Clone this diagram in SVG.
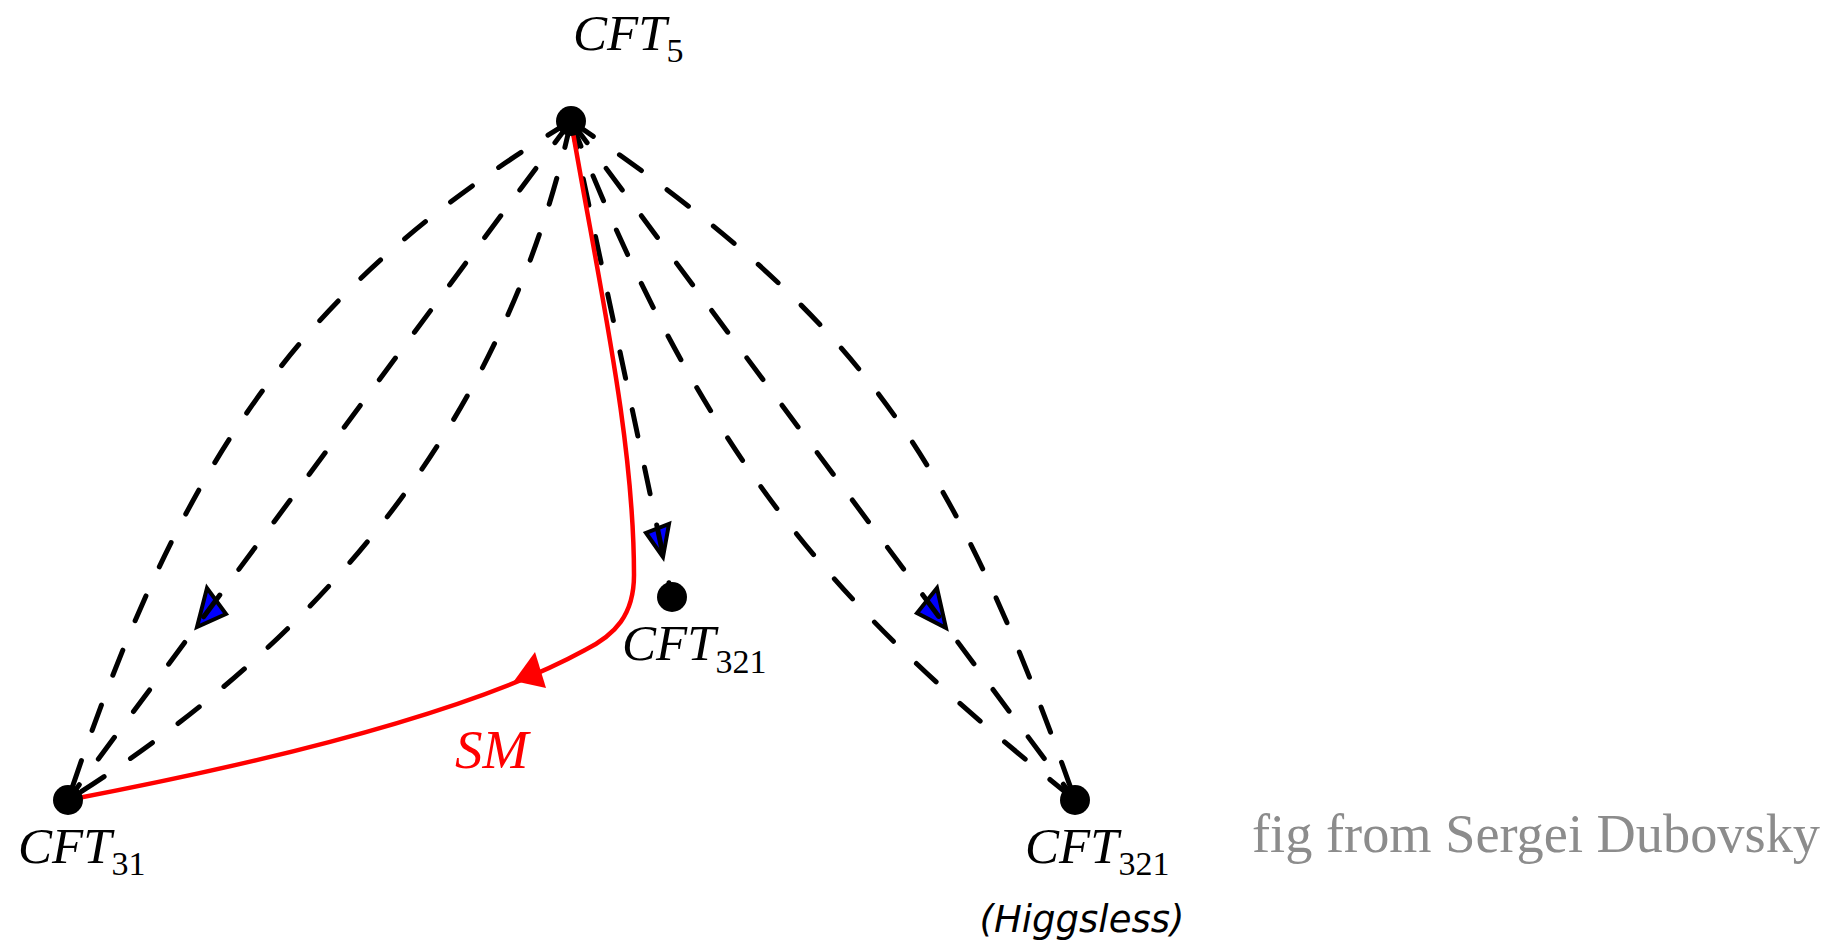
<svg xmlns="http://www.w3.org/2000/svg" width="1831" height="943" viewBox="0 0 1831 943">
<style>
.dash{fill:none;stroke:#000;stroke-width:5;stroke-dasharray:27 32;stroke-linecap:round}
.red{fill:none;stroke:#ff0000;stroke-width:4.5}
.redhead{fill:#ff0000;stroke:none}
.arr{fill:#0000ff;stroke:#000;stroke-width:4;stroke-linejoin:miter}
.node{fill:#000}
.lbl{font-family:"Liberation Serif",serif;font-style:italic;font-size:51px;fill:#000}
.sub{font-style:normal;font-size:34px}
</style>
<rect width="1831" height="943" fill="#fff"/>
<g id="connectors">
  <polygon class="arr" points="197,627 207,588 226,614"/>
  <polygon class="arr" points="946,628 917,613 937,588"/>
  <polygon class="arr" points="663,557 646,533 669,524"/>
  <path class="dash" d="M571,121 C305,282 185,449 68,800"/>
  <path class="dash" d="M571,121 L68,800"/>
  <path class="dash" d="M571,121 C510,400 343,627 68,800"/>
  <path class="dash" d="M571,121 L672,597"/>
  <path class="dash" d="M571,121 C716,495 867,631 1075,800"/>
  <path class="dash" d="M571,121 L1075,800"/>
  <path class="dash" d="M571,121 C863,320 953,453 1075,800"/>
  <path class="red" d="M571,121 C600,290 634,440 634,575 C634,615 615,635 585,650 Q441,729 68,800"/>
  <polygon class="redhead" points="514,681 535,652 546,688"/>
  <text x="455" y="768" font-family="Liberation Serif, serif" font-style="italic" font-size="55" fill="#ff0000">SM</text>
</g>
<g id="cft5">
  <circle class="node" cx="571" cy="121" r="15"/>
  <text class="lbl" x="573" y="50">CFT<tspan class="sub" dy="12">5</tspan></text>
</g>
<g id="cft31">
  <circle class="node" cx="68" cy="800" r="15"/>
  <text class="lbl" x="18" y="863">CFT<tspan class="sub" dy="12">31</tspan></text>
</g>
<g id="cft321-mid">
  <circle class="node" cx="672" cy="597" r="15"/>
  <text class="lbl" x="622" y="660">CFT<tspan class="sub" dy="13">321</tspan></text>
</g>
<g id="cft321-higgsless">
  <circle class="node" cx="1075" cy="800" r="15"/>
  <text class="lbl" x="1025" y="863">CFT<tspan class="sub" dy="12">321</tspan></text>
  <text x="1082" y="932" text-anchor="middle" font-family="DejaVu Sans, sans-serif" font-style="italic" font-size="37" fill="#000">(Higgsless)</text>
</g>
<g id="credit">
  <text x="1252" y="852" font-family="Liberation Serif, serif" font-size="54" fill="#8c8c8c" textLength="568" lengthAdjust="spacingAndGlyphs">fig from Sergei Dubovsky</text>
</g>
</svg>
